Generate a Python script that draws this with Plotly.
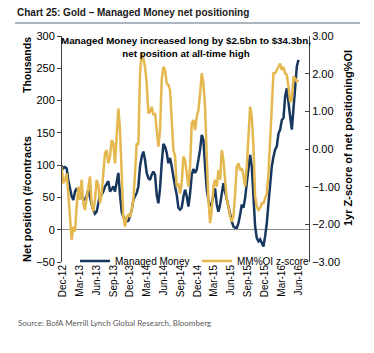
import pandas as pd
import plotly.graph_objects as go

# Managed Money net position (thousands of contracts), roughly every 9 days
managed_money = [99, 95, 97, 95, 77, 64, 52, 46, 59, 64, 57, 52, 54, 46, 47, 52, 62, 49, 39, 31,
                 25, 28, 39, 54, 54, 59, 67, 72, 75, 59, 64, 67, 59, 71, 88, 54, 28, 20, 15, 13,
                 14, 21, 30, 46, 52, 57, 67, 98, 113, 121, 108, 88, 80, 77, 85, 90, 85, 54, 41, 64,
                 103, 133, 129, 119, 103, 111, 98, 80, 67, 54, 34, 31, 34, 51, 62, 52, 36, 56, 85, 94,
                 88, 93, 106, 124, 147, 139, 98, 62, 46, 36, 41, 54, 64, 39, 28, 39, 59, 72, 59, 46,
                 36, 26, 13, 5, 3, 3, 10, 23, 39, 34, 49, 72, 98, 116, 98, 46, 5, -13, -18, -15,
                 -21, -26, -10, 10, 41, 72, 98, 113, 124, 129, 149, 155, 170, 173, 206, 219, 201, 175, 155, 186,
                 227, 253, 263]

# MM%OI 1yr z-score
mm_oi_zscore = [-0.47, -0.91, -0.82, -0.65, -1.18, -1.80, -2.41, -2.06, -2.19, -1.53, -1.00, -1.35, -0.82, -1.44, -1.62, -1.31, -1.04, -0.73, -1.44, -1.66,
                -1.35, -0.82, -0.95, -1.44, -1.18, -0.65, -0.11, -0.03, -0.38, -0.20, 0.24, 0.15, -0.38, 0.33, 1.08, 0.50, -0.82, -1.80, -2.06, -1.80,
                -1.75, -1.80, -1.62, -1.35, -0.65, 0.15, 0.11, 2.01, 2.54, 2.41, 2.18, 1.74, 0.95, 0.99, 1.12, 0.90, 0.95, 0.50, 0.06, 0.50,
                1.83, 2.18, 2.10, 1.74, 1.70, 1.56, 0.77, -0.03, -0.20, -1.00, -0.91, -1.18, -0.91, -0.20, -0.29, -0.65, -1.00, -0.47, 0.68, 0.77,
                0.50, 0.86, 1.03, 1.48, 2.01, 1.74, 1.12, -0.20, -1.35, -1.97, -1.62, -1.00, -0.82, -1.00, -0.56, -0.82, -0.03, -0.29, -0.91, -1.35,
                -1.53, -1.80, -1.93, -1.80, -1.18, -0.47, -0.38, -0.56, -0.51, -0.69, -1.00, -0.47, 0.33, 1.12, 0.86, 0.06, -1.26, -1.53, -1.62, -1.57,
                -1.44, -1.44, -1.31, -1.18, -0.65, 0.24, 1.12, 2.01, 2.01, 2.10, 2.18, 2.27, 2.10, 2.18, 2.01, 1.96, 1.65, 1.25, 1.30, 1.92,
                1.87, 1.79, 1.83]

start_date, end_date = "2012-11-24", "2016-06-01"
mm_dates = pd.date_range(start_date, end_date, periods=len(managed_money))
z_dates = pd.date_range(start_date, end_date, periods=len(mm_oi_zscore))

tick_dates = ["2012-12-01", "2013-03-01", "2013-06-01", "2013-09-01", "2013-12-01", "2014-03-01",
              "2014-06-01", "2014-09-01", "2014-12-01", "2015-03-01", "2015-06-01", "2015-09-01",
              "2015-12-01", "2016-03-01", "2016-06-01"]
tick_labels = ["Dec-12", "Mar-13", "Jun-13", "Sep-13", "Dec-13", "Mar-14", "Jun-14", "Sep-14",
               "Dec-14", "Mar-15", "Jun-15", "Sep-15", "Dec-15", "Mar-16", "Jun-16"]

NAVY = "#17375E"
GOLD = "#E5B84F"
FONT = "Liberation Sans, Arial"

# plot area in pixels
L, R, T, B = 62, 309, 36, 262
W, H = 374, 353
PW, PH = R - L, B - T

def px(x):
    return (x - L) / PW

def py(y):
    return (B - y) / PH

fig = go.Figure()
fig.add_trace(go.Scatter(x=mm_dates, y=managed_money, name="Managed Money", mode="lines",
                         line=dict(color=NAVY, width=2.5), yaxis="y"))
fig.add_trace(go.Scatter(x=z_dates, y=mm_oi_zscore, name="MM%OI z-score", mode="lines",
                         line=dict(color=GOLD, width=2.5), yaxis="y2"))

fig.update_layout(
    width=W, height=H,
    margin=dict(l=L, r=W - R, t=T, b=H - B, pad=0),
    paper_bgcolor="white", plot_bgcolor="white",
    font=dict(family=FONT, size=11, color="#000000"),
    showlegend=True,
    legend=dict(orientation="h", x=px(75), y=py(261), xanchor="left", yanchor="middle",
                bgcolor="rgba(0,0,0,0)", font=dict(size=10, family=FONT),
                entrywidth=77, entrywidthmode="pixels", itemwidth=30),
    xaxis=dict(type="date", range=["2012-11-26", "2016-07-28"], tickvals=tick_dates,
               ticktext=tick_labels, tickangle=-90, showgrid=False, showline=False,
               zeroline=False, ticks="", tickfont=dict(size=10, family=FONT)),
    yaxis=dict(range=[-50, 300], tickvals=[-50, 0, 50, 100, 150, 200, 250, 300],
               showgrid=False, showline=True, linecolor="#404040", linewidth=1,
               ticks="outside", ticklen=4, tickcolor="#404040",
               zeroline=True, zerolinecolor="#8C8C8C", zerolinewidth=1,
               tickfont=dict(size=11, family=FONT)),
    yaxis2=dict(range=[-3, 3], tickvals=[-3, -2, -1, 0, 1, 2, 3], tickformat=".2f",
                overlaying="y", side="right", showgrid=False, showline=True,
                linecolor="#404040", linewidth=1, ticks="inside", ticklen=4,
                tickcolor="#404040", zeroline=False, tickfont=dict(size=11, family=FONT)),
    annotations=[
        dict(text="<b>Chart 25: Gold – Managed Money net positioning</b>", x=px(15), y=py(13),
             xref="paper", yref="paper", xanchor="left", yanchor="middle", showarrow=False,
             font=dict(size=10, family=FONT, color="#1A1A1A")),
        dict(text="<b>Managed Money increased long by $2.5bn to $34.3bn,<br>net position at all-time high</b>",
             x=px(186), y=py(47), xref="paper", yref="paper", xanchor="center", yanchor="middle",
             showarrow=False, align="center", font=dict(size=9.8, family=FONT, color="#000000")),
        dict(text="<b>Thousands</b>", x=px(27), y=py(65), xref="paper", yref="paper",
             xanchor="center", yanchor="middle", textangle=-90, showarrow=False,
             font=dict(size=10.5, family=FONT)),
        dict(text="<b>Net position (#contracts</b>", x=px(27), y=py(199), xref="paper", yref="paper",
             xanchor="center", yanchor="middle", textangle=-90, showarrow=False,
             font=dict(size=11, family=FONT)),
        dict(text="<b>1yr Z-score of net positioning%OI</b>", x=px(348), y=py(138), xref="paper",
             yref="paper", xanchor="center", yanchor="middle", textangle=-90, showarrow=False,
             font=dict(size=11, family=FONT)),
        dict(text="Source: BofA Merrill Lynch Global Research, Bloomberg", x=px(16), y=py(323),
             xref="paper", yref="paper", xanchor="left", yanchor="middle", showarrow=False,
             font=dict(size=8, family="Lato, Liberation Sans", color="#595959")),
    ],
    shapes=[
        dict(type="line", xref="paper", yref="paper", x0=px(15), x1=px(360), y0=py(23), y1=py(23),
             line=dict(color="#5A6A82", width=1)),
    ],
)

fig.write_html("out.html")
